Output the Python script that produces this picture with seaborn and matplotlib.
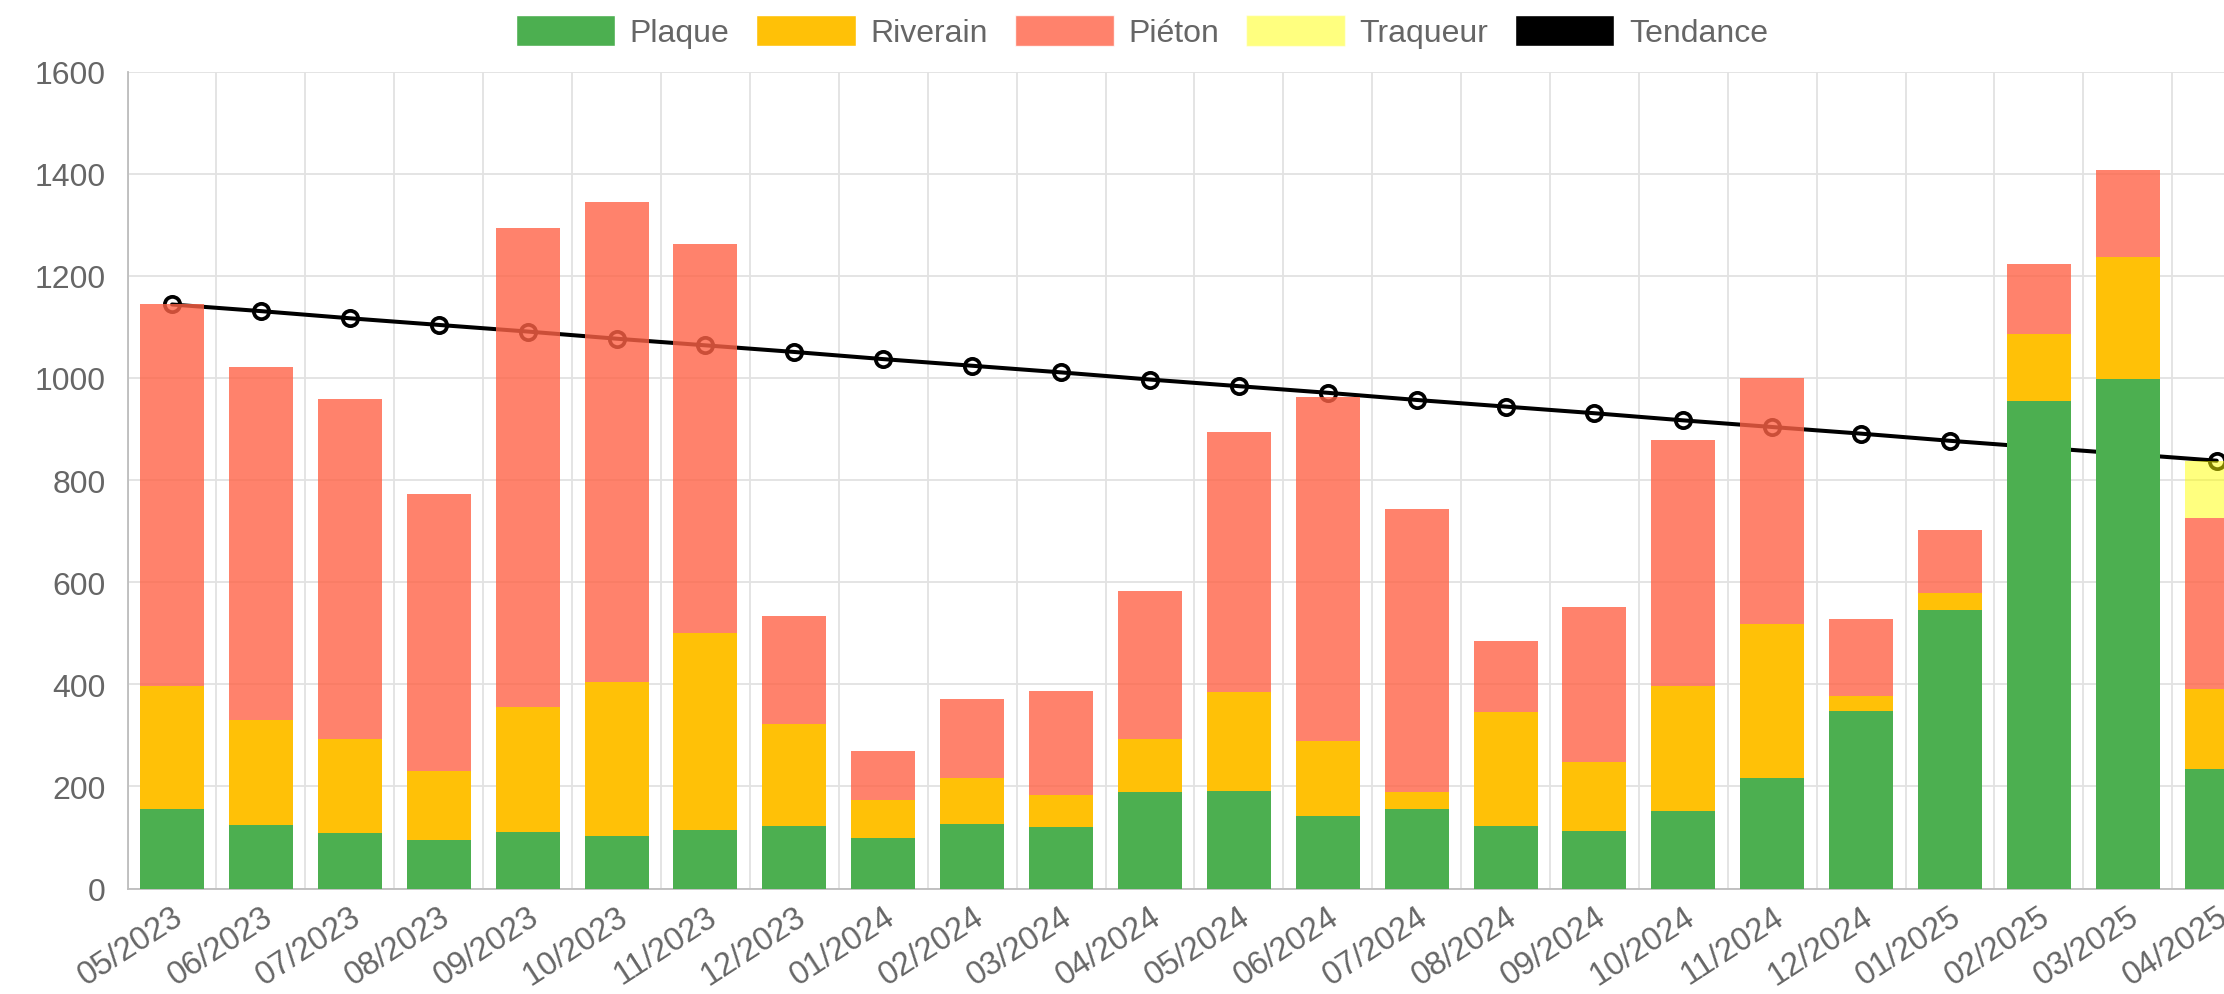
import numpy as np
import pandas as pd
import seaborn as sns
import matplotlib.pyplot as plt
from matplotlib.patches import Patch

months = ["05/2023", "06/2023", "07/2023", "08/2023", "09/2023", "10/2023",
          "11/2023", "12/2023", "01/2024", "02/2024", "03/2024", "04/2024",
          "05/2024", "06/2024", "07/2024", "08/2024", "09/2024", "10/2024",
          "11/2024", "12/2024", "01/2025", "02/2025", "03/2025", "04/2025"]
plaque = [155, 124, 108, 95, 110, 102, 115, 123, 98, 127, 121, 189,
          191, 142, 156, 122, 113, 151, 217, 348, 546, 955, 999, 234]
riverain = [242, 206, 184, 136, 245, 303, 386, 199, 76, 90, 62, 103,
            193, 146, 33, 223, 134, 246, 301, 30, 32, 132, 238, 157]
pieton = [747, 691, 667, 541, 939, 940, 761, 211, 95, 154, 204, 291,
          510, 674, 554, 140, 305, 482, 482, 149, 124, 136, 170, 335]
traqueur = [0, 0, 0, 0, 0, 0, 0, 0, 0, 0, 0, 0,
            0, 0, 0, 0, 0, 0, 0, 0, 0, 0, 0, 112]
tendance = [1144, 1131, 1117, 1104, 1091, 1077, 1064, 1051, 1037, 1024, 1011, 997,
            984, 971, 957, 944, 931, 917, 904, 891, 877, 864, 851, 838]

df = pd.DataFrame({"mois": months, "Plaque": plaque, "Riverain": riverain,
                   "Piéton": pieton, "Traqueur": traqueur, "Tendance": tendance})

sns.set_style("white")
plt.rcParams["font.family"] = ["Liberation Sans", "DejaVu Sans"]
grey_txt = "#666666"
grid_col = "#e2e2e2"
fs = 23

fig = plt.figure(figsize=(22.24, 9.95), dpi=100)
# plot area runs past the right edge, like the clipped original
ax = fig.add_axes([127.6 / 2224, 105.5 / 995, 2133.6 / 2224, 816.8 / 995])

# trend line first so the bars sit on top of it
sns.lineplot(x=np.arange(len(months)), y=df["Tendance"], color="black", lw=2.9,
             marker="o", markersize=11, markerfacecolor="none",
             markeredgecolor="black", markeredgewidth=2.7, zorder=2, ax=ax)

layers = [("Plaque", "#4CAF50", 1.0),
          ("Riverain", "#FFC107", 1.0),
          ("Piéton", "#FF6347", 0.8),
          ("Traqueur", "#FFFF00", 0.5)]
bottom = np.zeros(len(months))
for name, col, a in layers:
    sns.barplot(data=df, x="mois", y=name, color=col, alpha=a, saturation=1,
                bottom=bottom.copy(), width=0.72, linewidth=0, errorbar=None,
                zorder=3, ax=ax)
    bottom += df[name].values

ax.set_xlim(-0.5, len(months) - 0.5)
ax.set_ylim(0, 1600)
ax.set_yticks(range(0, 1601, 200))
ax.set_xticks(np.arange(len(months)))
ax.set_xticklabels(months, rotation=33, ha="right", va="top", rotation_mode="anchor")
ax.set_xticks(np.arange(len(months) + 1) - 0.5, minor=True)
ax.set_xlabel("")
ax.set_ylabel("")

ax.set_axisbelow(True)
ax.grid(axis="y", which="major", color=grid_col, lw=1.3)
ax.grid(axis="x", which="minor", color=grid_col, lw=1.3)
ax.grid(axis="x", which="major", visible=False)
ax.tick_params(axis="x", which="major", length=0, pad=9, labelsize=23.5, labelcolor=grey_txt)
ax.tick_params(axis="x", which="minor", length=8, width=1.3, color=grid_col)
ax.tick_params(axis="y", length=8, width=1.3, color=grid_col, pad=8,
               labelsize=fs, labelcolor=grey_txt)
for s in ["top", "right"]:
    ax.spines[s].set_visible(False)
for s in ["left", "bottom"]:
    ax.spines[s].set_color("#bdbdbd")
    ax.spines[s].set_linewidth(1.3)

handles = [Patch(facecolor="#4CAF50", label="Plaque"),
           Patch(facecolor="#FFC107", label="Riverain"),
           Patch(facecolor="#FF6347", alpha=0.8, label="Piéton"),
           Patch(facecolor="#FFFF00", alpha=0.5, label="Traqueur"),
           Patch(facecolor="black", label="Tendance")]
fig.legend(handles=handles, loc="center", bbox_to_anchor=(1142 / 2224, 0.967),
           ncol=5, frameon=False, fontsize=fs, labelcolor=grey_txt,
           handlelength=3.1, handleheight=1.1, handletextpad=0.45,
           columnspacing=0.85, borderaxespad=0)

plt.savefig("out.png", dpi=100)
